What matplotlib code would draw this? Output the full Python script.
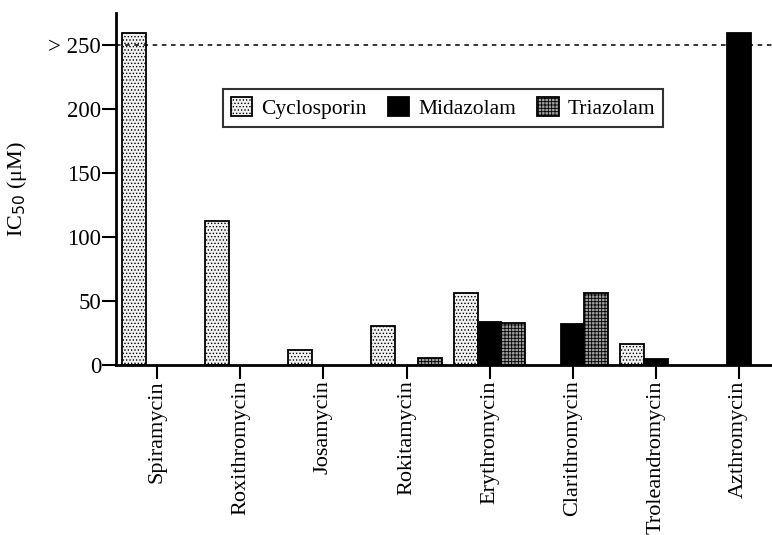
import numpy as np
import matplotlib
matplotlib.use("Agg")
import matplotlib.pyplot as plt

plt.rcParams['font.family'] = ['Liberation Serif', 'DejaVu Serif']
plt.rcParams['hatch.linewidth'] = 0.6

# data
drugs = ['Spiramycin', 'Roxithromycin', 'Josamycin', 'Rokitamycin',
         'Erythromycin', 'Clarithromycin', 'Troleandromycin', 'Azthromycin']
cyclosporin = [259, 112.5, 12, 30, 56, 0, 16.5, 0]
midazolam = [0, 0, 0, 0, 33.5, 32, 4.5, 259]
triazolam = [0, 0, 0, 5.5, 33, 56.5, 0, 0]
ytick_vals = [0, 50, 100, 150, 200, 250]
ytick_labels = ['0', '50', '100', '150', '200', '> 250']

fig = plt.figure(figsize=(7.72, 5.35), dpi=100)
ax = fig.add_axes([0.150, 0.318, 0.85, 0.658])

x = np.arange(len(drugs))
w = 0.284

def draw(vals, off, fc, hatch, label):
    xs = [xi + off for xi, v in zip(x, vals) if v > 0]
    vs = [v for v in vals if v > 0]
    return ax.bar(xs, vs, w, facecolor=fc, edgecolor='black', hatch=hatch,
                  linewidth=1.3, label=label)

b1 = draw(cyclosporin, -w, '#f2f2f2', '.....', 'Cyclosporin')
b2 = draw(midazolam, 0, 'black', None, 'Midazolam')
b3 = draw(triazolam, w, '#a0a0a0', '+++++', 'Triazolam')

ax.axhline(250, color='black', ls=(0, (3, 3)), lw=1.1)

ax.set_xlim(-0.5, 7.4)
ax.set_ylim(0, 275)
ax.set_yticks(ytick_vals)
ax.set_yticklabels(ytick_labels, fontsize=16.5)
ax.set_xticks(x)
ax.set_xticklabels(drugs, rotation=90, fontsize=16, va='top')
ax.tick_params(axis='both', direction='out', length=10, width=1.5)
ax.tick_params(axis='y', pad=0.5)
ax.tick_params(axis='x', pad=1)

for s in ['top', 'right']:
    ax.spines[s].set_visible(False)
for s in ['left', 'bottom']:
    ax.spines[s].set_linewidth(2)

ax.set_ylabel(r'IC$_{50}$ ($\mathregular{\mu}$M)', fontsize=16, labelpad=14)

leg = ax.legend(handles=[b1, b2, b3], ncol=3, fontsize=15.5, loc='center',
                bbox_to_anchor=(443 / 772, 1 - 108 / 535),
                bbox_transform=fig.transFigure,
                frameon=True, fancybox=False, edgecolor='black',
                handlelength=1.0, handleheight=1.0, handletextpad=0.4,
                columnspacing=1.0, borderpad=0.35)
leg.get_frame().set_linewidth(1.5)

fig.savefig('out.png', dpi=100)
